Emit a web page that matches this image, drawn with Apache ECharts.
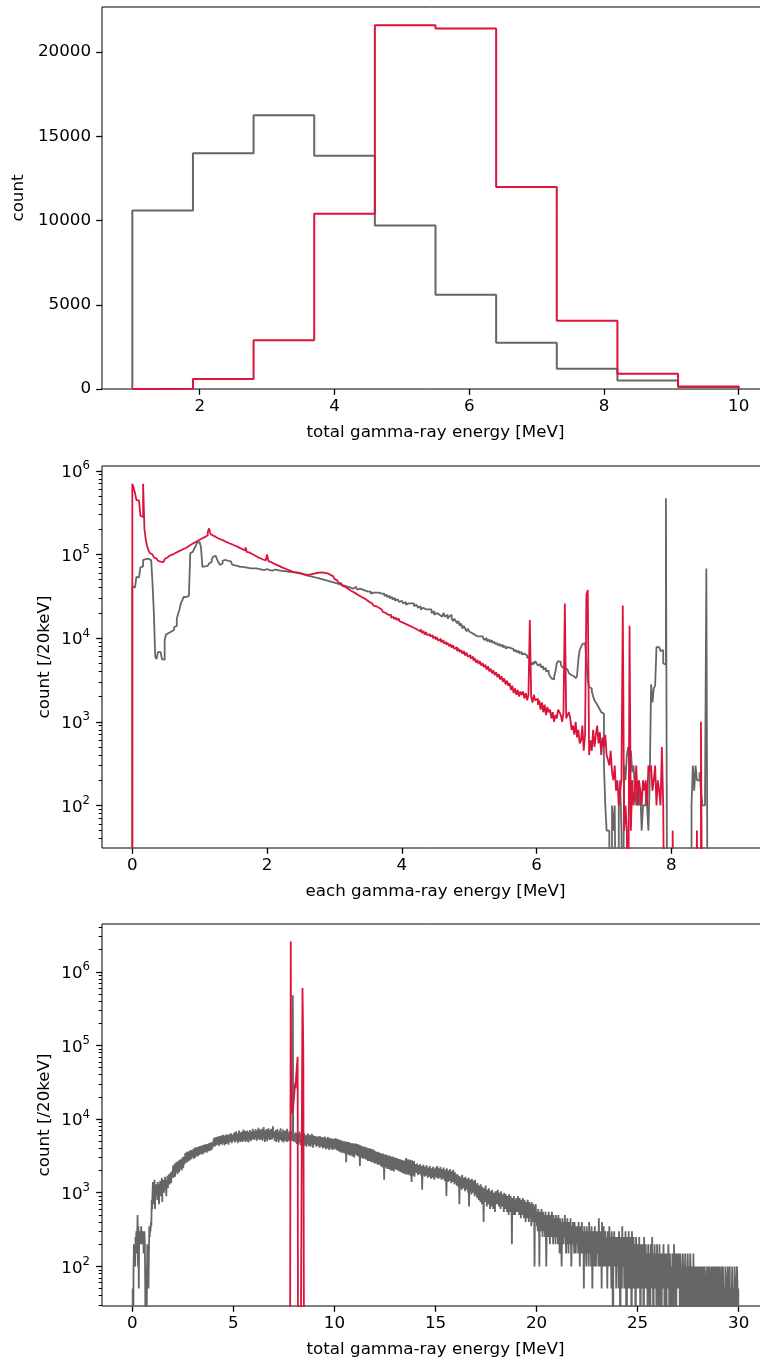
<!DOCTYPE html>
<html>
<head>
<meta charset="utf-8">
<script src="https://cdn.jsdelivr.net/npm/echarts@6/dist/echarts.min.js"></script>
<style>
html,body{margin:0;padding:0;background:#fff;}
#chart{width:760px;height:1362px;}
</style>
</head>
<body>
<div id="chart"></div>
<script>
// ---------------- DATA ----------------
// Panel 1: total gamma-ray energy histogram (bins of 0.9 MeV starting at 1.0 MeV)
const p1BinStart = 1.0;
const p1BinWidth = 0.9;
const p1Gray = [10600, 14000, 16250, 13850, 9700, 5600, 2750, 1200, 500, 120];
const p1Red  = [10, 600, 2900, 10400, 21600, 21400, 12000, 4050, 900, 150];

// Panel 2: each gamma-ray energy, 20 keV bins, rows of 10 bins (0.2 MeV per row)
const p2RowSpan = 0.2;
const p2BinWidth = 0.02;
const p2Gray = [
[42000,40000,41000,54000,53000,55000,70000,72000,86000,88000],
[87000,89000,86000,85000,84000,45000,20000,6000,5600,6800],
[6800,6800,5600,5500,9500,11000,11500,11500,12000,12000],
[12500,13500,14000,17000,19500,22000,26000,28000,31000,31000],
[31500,32000,33000,103000,108000,112000,118000,125000,138000,140000],
[136000,120000,71000,72000,74000,73000,76000,78000,82000,88000],
[94000,96000,95000,86000,80000,75000,78000,84000,86000,85000],
[84000,86000,83000,80000,76000,74000,76000,73000,72000,71000],
[70000,71000,69000,70000,68000,69000,70000,68000,67000,68000],
[67000,68000,66000,67000,68000,66000,67000,65000,66000,67000],
[66000,65000,66000,64000,65000,66000,64000,65000,63000,64000],
[64000,63000,62000,63000,61000,62000,61000,62000,60000,61000],
[60000,61000,59000,60000,58000,59000,58000,57000,58000,56000],
[57000,55000,56000,54000,55000,53000,54000,52000,53000,51000],
[52000,50000,51000,49000,50000,48000,49000,47000,48000,46000],
[47000,45000,46000,44000,45000,43000,44000,42000,43000,41000],
[42000,40000,41000,39000,40000,41000,39000,38000,39000,37000],
[38000,36000,37000,38000,36000,35000,36000,34000,35000,36000],
[35000,34000,35000,36000,34000,33000,34000,32000,33000,31000],
[32000,30000,31000,29000,30000,28000,29000,28000,27000,28000],
[27000,26000,27000,25000,26000,27000,26000,25000,26000,24000],
[25000,24000,23000,24000,22000,23000,24000,22000,21000,22000],
[21000,22000,20000,21000,19000,20000,21000,19000,20000,18000],
[19000,20000,18000,19000,17000,18000,19000,17000,16000,17000],
[16000,15000,16000,14000,15000,13000,14000,13000,12000,13000],
[12000,11500,12000,11000,11500,10500,11000,10500,10000,10500],
[10000,9500,10000,9200,9600,9000,9400,8800,9000,8500],
[8700,8200,8500,8000,8300,7800,8000,7500,7800,7400],
[7600,7200,7400,7000,7200,6800,7000,6600,6800,6400],
[6500,6300,6200,5800,6000,5000,4800,5200,4900,5300],
[5000,4700,4900,4500,4600,4200,4400,4000,4100,3800],
[3500,3300,3200,3400,4000,5000,5300,5200,4800,4500],
[4400,4600,4200,4000,3800,3600,3700,3500,3400,3300],
[3500,5500,7200,7800,8500,8700,8300,5500,3200,2600],
[2500,2300,2000,1800,1700,1600,1500,1400,1300,1250],
[300,100,50,50,0,0,100,50,100,0],
[0,100,200,50,0,300,200,400,500,300],
[450,250,300,150,100,200,100,150,50,100],
[100,150,100,50,200,2800,1700,2500,2700,7800],
[7800,7500,7000,7200,5000,4800,470000,0,0,0],
[0,0,0,0,0,0,0,0,0,0],
[0,0,0,0,0,100,300,150,300,200],
[200,250,150,100,100,100,68000,0,0,0],
[0,0,0,0,0,0,0,0,0,0],
[0,0,0,0,0,0,0,0,0,0]
];
const p2Red = [
[700000,620000,540000,450000,440000,460000,290000,280000,700000,200000],
[150000,125000,112000,104000,100000,96000,92000,89000,86000,84000],
[82000,80000,81000,84000,88000,92000,95000,97000,99000,100000],
[102000,104000,106000,108000,110000,112000,114000,116000,118000,120000],
[123000,126000,129000,132000,135000,138000,141000,144000,147000,150000],
[153000,156000,159000,162000,165000,170000,185000,205000,175000,168000],
[165000,162000,158000,155000,152000,150000,148000,146000,143000,140000],
[138000,136000,134000,132000,130000,128000,126000,124000,121000,119000],
[117000,115000,113000,111000,122000,107000,105000,103000,101000,99000],
[97000,95000,93000,92000,90000,89000,87000,86000,85000,84000],
[100000,83000,81000,80000,78000,77000,75000,74000,73000,71000],
[70000,69000,68000,67000,66000,65000,64000,63000,62000,61500],
[61000,60500,60000,59500,59000,58500,58000,58000,57500,57000],
[57000,57500,58000,58000,59000,59500,60000,60000,60500,61000],
[61000,60500,60000,60000,59500,58000,57000,56000,55000,53000],
[51000,49000,47000,46000,45000,44000,42000,41000,40000,39000],
[38000,37000,36000,35500,35000,34000,33000,32500,32000,31000],
[30500,30000,29000,28500,28000,27000,26500,26000,25000,24500],
[24000,23500,23000,22500,22000,21000,20500,20000,19500,19000],
[18500,19000,17500,18000,17000,17500,16500,17000,16000,15500],
[16000,15000,15500,14500,15000,14000,14500,13500,14200,13000],
[13500,12500,13000,12000,12800,11500,12200,11000,11800,10800],
[11200,10500,10800,10000,10400,9600,10200,9300,9800,9000],
[9400,8600,9000,8300,8800,8000,8500,7700,8200,7400],
[7800,7000,7500,6800,7200,6500,7000,6200,6700,6000],
[6300,5700,6000,5400,5800,5100,5500,4900,5300,4700],
[5000,4500,4800,4200,4600,4000,4300,3800,4100,3600],
[3900,3400,3700,3200,3500,3000,3300,2800,3100,2700],
[2900,2400,2700,2200,2500,2100,2400,2000,2300,2100],
[2300,1900,2200,1800,2100,16400,2000,1700,2100,1800],
[1900,1600,1800,1400,1700,1300,1600,1200,1500,1300],
[1400,1100,1300,1000,1200,1100,1400,1300,1200,1000],
[1300,25900,1100,1200,1300,1100,800,900,700,1000],
[650,800,550,600,900,450,700,33000,37500,400],
[600,450,800,500,700,900,550,750,400,650],
[500,700,400,350,300,450,250,200,300,150],
[200,100,150,200,24600,50,100,50,0,14000],
[50,200,100,150,300,100,200,150,100,200],
[150,200,100,300,250,300,150,200,300,100],
[200,150,100,500,100,0,0,0,0,0],
[0,50,0,0,0,0,0,0,0,0],
[0,0,0,0,0,0,0,0,0,50],
[0,0,1000,0,0,0,0,0,0,0],
[0,0,0,0,0,0,0,0,0,0],
[0,0,0,0,0,0,0,0,0,0]
];

// Panel 3: total gamma-ray energy, 20 keV bins, rows of 50 bins (1 MeV per row)
const p3RowSpan = 1.0;
const p3BinWidth = 0.02;
const p3Gray = [
[0,50,0,100,200,150,200,100,250,200, 300,150,250,500,100,350,50,300,250,200, 300,250,350,200,300,250,200,300,150,250, 300,200,50,0,100,0,50,200,100,200, 50,150,350,250,350,300,400,350,800,600],
[1000,1400,700,1200,850,1500,600,1100,900,1300, 1000,1250,800,1400,950,1300,700,1150,1050,1450, 900,1300,1100,1600,750,1350,1200,1500,1000,1400, 1250,1650,1100,1500,900,1450,1300,1700,1150,1550, 1400,1800,1300,1650,1500,1900,1350,1750,1600,2000],
[1750,2350,1600,2200,1850,2500,1650,2300,1900,2600, 1950,2450,1800,2700,2000,2550,1900,2800,2100,2650, 2150,2900,2000,2800,2250,3050,2150,2950,2400,3100, 2500,3450,2650,3300,2550,3600,2750,3450,2650,3550, 2850,3700,2750,3550,2950,3800,2850,3650,3050,3750],
[3050,3950,2900,3800,3150,4100,3000,3900,3250,4150, 3200,4050,3100,4200,3350,4000,3250,4300,3400,4150, 3450,4350,3300,4250,3550,4450,3400,4300,3650,4500, 3550,4550,3700,4350,3500,4600,3750,4450,3650,4700, 3850,4650,3700,4800,3950,4600,3800,4850,4000,4750],
[4300,5300,4600,5600,4200,5500,4900,4400,5700,4600, 5200,4500,5800,4700,5400,4300,5900,5000,4600,5700, 4800,6000,4500,5500,5100,6100,4700,5600,4400,6000, 5000,5800,4600,6200,5200,4800,6100,5300,4500,5900, 5100,6300,4900,5700,5300,6400,4700,6000,5200,5600],
[5000,6300,5300,6600,4800,6000,5500,6800,5100,6200, 5700,4700,6400,5300,7000,5000,6100,4900,6600,5600, 5200,6700,4900,6300,5800,7200,5100,6000,5400,6900, 4900,6500,6200,5100,7000,5500,6300,4800,6700,5800, 5300,7100,5600,5000,6800,5200,6500,5700,7400,5400],
[5800,6900,5200,6500,5600,7300,5500,6800,5100,6400, 7000,5400,7600,5700,6600,5200,7200,5900,5300,6900, 5600,7400,5100,6700,6000,7800,5500,6500,4900,7000, 5800,5300,7300,6100,5000,6800,5700,7500,5400,6600, 6000,5200,7100,5600,7400,5300,6700,5900,8000,5500],
[5600,6800,5100,6500,5500,7100,4900,6600,5700,7300, 5300,6700,4800,6400,5600,7000,5200,7500,5400,6600, 5000,6500,5700,7200,4800,6300,5500,6900,5100,7000, 5300,6600,4900,7400,5600,6500,5000,6400,5500,6900, 5200,6700,5000,6300,5400,6800,5100,480000,5700,5000],
[5900,4900,6300,5100,6600,4800,6100,4600,6400,5000, 6000,4500,6300,4900,6800,4800,5900,4400,6200,5000, 5800,4300,6200,4900,6500,4700,5800,4400,6100,5000, 5700,4200,6000,4800,6400,4600,5900,4300,6100,4900, 5600,4200,6000,4700,6300,4500,5700,4100,6000,4800],
[5700,4500,5900,4600,5600,4200,5800,4500,5500,4300, 5800,4400,5400,4100,5900,4500,5600,4200,5500,4400, 5700,4000,5600,4400,5300,4100,5800,4300,5400,3900, 5500,4300,5300,4000,5700,4200,5400,3800,5500,4300, 5200,4000,5500,4100,5300,3800,5400,4200,5200,3900],
[5300,4000,5500,4100,5100,3800,5400,4000,5000,3700, 5300,3900,5000,3600,5200,3800,4900,3500,5100,3900, 4900,3500,5000,3700,4800,3400,5000,3600,4700,2600, 4900,3600,4700,3300,4900,3500,4600,3200,4800,3500, 4600,3200,4700,3400,4500,3100,4700,3300,4400,3000],
[4600,3400,4700,3500,4400,3200,4600,3400,4300,3100, 4500,3300,4200,2300,4400,3200,4100,3000,4300,3200, 4100,2900,4200,3100,4000,2900,4200,3000,3900,2800, 4100,3000,3900,2700,4000,2900,3800,2700,4000,2900, 3800,2600,3900,2800,3700,2600,3900,2800,3600,2500],
[3700,2700,3500,2500,3600,2600,3400,2400,3600,2600, 3300,2400,3500,2500,3300,2300,3400,2500,3200,2200, 3400,2400,3200,1500,3300,2400,3100,2200,3300,2300, 3100,2100,3200,2300,3000,2100,3200,2200,3000,2000, 3100,2200,2900,2000,3100,2100,2900,1950,3000,2100],
[3000,2200,2850,2050,2950,2150,2800,2000,2900,2100, 2750,1950,2850,2050,2700,1900,2800,2000,2650,1850, 2750,1950,2600,1800,2700,1900,2550,2950,1750,2650, 1850,2500,2850,1750,2600,1800,2450,2800,1700,2550, 1800,1400,2750,1700,2500,1750,2350,2700,1650,2450],
[2400,1950,2250,1850,2500,2000,2150,1750,2350,1900, 2200,1800,2450,1950,2100,1700,2300,1100,2150,1750, 2400,1900,2050,1650,2250,1800,2100,1700,2350,1850, 2000,1600,2200,1750,2050,1650,2300,1800,1950,1550, 2150,1700,2000,1600,2250,1750,1900,1500,2100,1650],
[2200,1750,2050,1600,2300,1800,1950,1550,2150,1700, 2000,1600,2250,1750,1900,1500,2100,1650,1950,1550, 2200,1700,1850,1450,2050,1600,1900,900,2150,1650, 1800,1400,2000,1550,1850,1450,2100,1600,1750,1350, 1950,1500,1800,1400,2050,1550,1700,1300,1900,1450],
[1750,1350,1600,1250,1800,1400,1550,1200,1700,700, 1500,1150,1650,1250,1450,1100,1750,1300,1500,1150, 1600,1200,1400,1050,1650,1250,1450,1100,1550,1150, 1350,1000,1600,650,1400,1050,1500,1100,1300,950, 1550,1150,1350,1000,1450,1050,1250,900,1500,1100],
[1300,950,1200,850,1350,1000,1150,800,1250,900, 1100,750,1300,950,1050,700,1200,850,1000,400, 1150,800,1050,750,1250,850,950,650,1100,800, 1000,700,1150,750,900,600,1050,750,950,650, 1100,700,900,600,1000,700,850,550,1050,700],
[1050,750,950,700,1100,800,900,650,1000,750, 850,600,1050,750,900,650,950,700,800,550, 1000,700,850,600,950,650,800,550,900,650, 750,500,950,650,800,550,900,600,750,200, 850,600,750,500,900,600,700,500,800,550],
[850,600,800,550,900,650,750,500,850,600, 700,450,800,550,750,500,850,600,700,450, 800,550,650,400,750,500,700,450,800,550, 650,400,750,500,700,450,600,350,750,500, 650,400,700,450,600,100,650,450,700,400],
[550,350,500,300,600,400,450,100,550,350, 500,300,600,350,450,250,550,350,500,300, 450,250,550,350,100,300,500,300,450,250, 550,350,400,200,500,300,450,250,550,300, 400,200,500,300,450,250,400,200,500,300],
[450,250,400,200,500,300,350,150,450,250, 400,200,100,250,450,250,350,200,400,250, 500,300,350,150,400,200,450,250,300,150, 400,250,350,200,450,250,100,200,350,200, 400,200,300,150,400,250,350,150,300,200],
[350,200,300,150,400,200,250,100,350,200, 300,150,400,250,300,150,250,50,350,200, 300,150,250,100,350,200,300,150,250,100, 400,200,300,150,250,100,350,200,50,150, 300,150,250,100,350,200,250,100,300,150],
[300,150,250,100,450,200,250,100,300,150, 200,50,400,150,250,100,350,200,250,100, 300,150,200,100,250,50,300,150,200,100, 350,200,250,100,200,50,300,150,250,0, 200,100,300,150,200,100,250,50,200,150],
[250,100,200,50,300,150,200,0,250,100, 150,50,350,150,200,100,250,50,200,100, 300,150,150,0,250,100,200,50,300,100, 150,50,250,100,200,0,300,150,150,50, 250,100,200,50,150,0,250,100,200,50],
[200,100,150,50,250,100,150,0,200,50, 150,100,200,50,100,0,250,100,150,50, 200,100,100,50,150,0,200,100,150,50, 100,0,200,50,150,100,250,50,100,0, 150,50,200,100,100,50,150,0,200,50],
[150,50,100,0,200,100,150,50,100,0, 150,50,100,50,200,50,100,0,150,100, 50,0,150,50,100,50,200,100,50,0, 150,50,100,0,100,50,150,50,100,0, 200,50,100,50,150,0,100,50,150,50],
[100,50,150,50,100,0,150,100,50,0, 100,50,150,50,100,0,50,100,150,50, 100,0,100,50,150,50,50,0,100,50, 150,100,50,0,100,50,100,0,150,50, 50,0,100,50,100,50,50,0,100,50],
[100,50,50,0,100,50,0,50,100,50, 50,0,100,50,50,0,100,100,50,0, 50,50,100,0,50,100,50,0,100,50, 50,0,50,100,50,0,100,50,50,0, 100,50,0,50,50,100,0,50,100,50],
[50,0,100,50,50,0,50,100,0,50, 50,100,50,0,50,50,0,100,50,50, 0,50,50,100,50,0,50,50,100,0, 50,50,0,50,100,50,0,50,50,0, 100,50,50,0,50,50,100,50,0,50]
];
const p3RedStart = 7.80;
const p3Red = [0,2000,2580000,12000,11500,12500,12000,13500,15000,17000,
  19500,23000,27000,31000,26000,36000,43000,51000,60000,70000,
  0,0,0,0,0,0,0,0,0,0,0,
  600000,590000,82000,80000,0];

// Axis ticks
const p1XTicks = [2, 4, 6, 8, 10];
const p1YTicks = [0, 5000, 10000, 15000, 20000];
const p2XTicks = [0, 2, 4, 6, 8];
const p3XTicks = [0, 5, 10, 15, 20, 25, 30];
const logTicks = [1e2, 1e3, 1e4, 1e5, 1e6];

// ---------------- BUILD ----------------
const FLOOR_LOG = 1; // zero bins drawn below the visible log range

function stepFlat(start, width, values, floor) {
  const pts = [[start, floor]];
  values.forEach((v, i) => {
    const x0 = start + i * width;
    const y = v > 0 ? v : floor;
    pts.push([x0, y], [x0 + width, y]);
  });
  pts.push([start + values.length * width, floor]);
  return pts;
}
function stepRows(rows, rowSpan, width, floor) {
  const pts = [[0, floor]];
  rows.forEach((row, r) => {
    row.forEach((v, j) => {
      const x0 = r * rowSpan + j * width;
      const y = v > 0 ? v : floor;
      pts.push([x0, y], [x0 + width, y]);
    });
  });
  pts.push([rows.length * rowSpan, floor]);
  return pts;
}
function minorLog(lo, hi) {
  const out = [];
  for (let e = 0; e <= 7; e++) for (let k = 2; k <= 9; k++) {
    const v = k * Math.pow(10, e);
    if (v >= lo && v <= hi) out.push(v);
  }
  return out;
}

const FONT = 'DejaVu Sans';
const FS = 16.7;
const GRAY = '#666666';
const RED = '#DC143C';
const txt = { fontFamily: FONT, fontSize: FS, color: '#000' };
const tickStyle = { color: '#000', width: 1.3 };
const richLog = {
  b: { fontFamily: FONT, fontSize: FS, color: '#000', verticalAlign: 'bottom' },
  s: { fontFamily: FONT, fontSize: 11.7, color: '#000', verticalAlign: 'bottom', padding: [0, 0, 9, 0] }
};
const logFmt = v => '{b|10}{s|' + Math.round(Math.log10(v)) + '}';

const P2MIN = 31, P2MAX = 1.14e6;
const P3MIN = 29, P3MAX = 4.45e6;

const G = { left: 102, width: 667, height: 382 };
const grids = [
  Object.assign({ top: 7 }, G),
  Object.assign({ top: 466 }, G),
  Object.assign({ top: 924 }, G)
].map(g => Object.assign(g, {
  show: true, borderColor: '#000', borderWidth: 1, backgroundColor: 'transparent',
  containLabel: false, outerBoundsMode: 'none'
}));

function xAx(gi, min, max, ticks, name) {
  return {
    gridIndex: gi, type: 'value', min: min, max: max, position: 'bottom',
    axisLine: { show: false, onZero: false }, splitLine: { show: false },
    axisTick: { customValues: ticks, length: 5.8, lineStyle: tickStyle },
    axisLabel: Object.assign({ customValues: ticks, formatter: v => String(v), margin: 9 }, txt),
    name: name, nameLocation: 'middle', nameGap: 35, nameMoveOverlap: false, nameTextStyle: txt
  };
}
function yLogMain(gi, min, max) {
  return {
    gridIndex: gi, type: 'log', logBase: 10, min: min, max: max, position: 'left',
    axisLine: { show: false, onZero: false }, splitLine: { show: false },
    axisTick: { customValues: logTicks, length: 5.8, lineStyle: tickStyle },
    axisLabel: { customValues: logTicks, formatter: logFmt, rich: richLog, margin: 12 },
    name: 'count [/20keV]', nameLocation: 'middle', nameGap: 49, nameMoveOverlap: false, nameTextStyle: txt
  };
}
function yLogMinor(gi, min, max) {
  return {
    gridIndex: gi, type: 'log', logBase: 10, min: min, max: max, position: 'left', offset: 0,
    axisLine: { show: false, onZero: false }, splitLine: { show: false },
    axisTick: { customValues: minorLog(min, max), length: 3.3, lineStyle: { color: '#000', width: 1 } },
    axisLabel: { show: false }
  };
}

const option = {
  animation: false,
  backgroundColor: '#fff',
  grid: grids,
  xAxis: [
    xAx(0, 0.55, 10.45, p1XTicks, 'total gamma-ray energy [MeV]'),
    xAx(1, -0.45, 9.45, p2XTicks, 'each gamma-ray energy [MeV]'),
    xAx(2, -1.5, 31.5, p3XTicks, 'total gamma-ray energy [MeV]')
  ],
  yAxis: [
    {
      gridIndex: 0, type: 'value', min: 0, max: 22680, position: 'left',
      axisLine: { show: false, onZero: false }, splitLine: { show: false },
      axisTick: { customValues: p1YTicks, length: 5.8, lineStyle: tickStyle },
      axisLabel: Object.assign({ customValues: p1YTicks, formatter: v => String(v), margin: 11 }, txt),
      name: 'count', nameLocation: 'middle', nameGap: 75, nameMoveOverlap: false, nameTextStyle: txt
    },
    yLogMain(1, P2MIN, P2MAX),
    yLogMinor(1, P2MIN, P2MAX),
    yLogMain(2, P3MIN, P3MAX),
    yLogMinor(2, P3MIN, P3MAX)
  ],
  series: [
    { type: 'line', xAxisIndex: 0, yAxisIndex: 0, data: stepFlat(p1BinStart, p1BinWidth, p1Gray, 0), showSymbol: false, lineStyle: { color: GRAY, width: 2 }, itemStyle: { color: GRAY } },
    { type: 'line', xAxisIndex: 0, yAxisIndex: 0, data: stepFlat(p1BinStart, p1BinWidth, p1Red, 0), showSymbol: false, lineStyle: { color: RED, width: 2 }, itemStyle: { color: RED } },
    { type: 'line', xAxisIndex: 1, yAxisIndex: 1, data: stepRows(p2Gray, p2RowSpan, p2BinWidth, FLOOR_LOG), showSymbol: false, lineStyle: { color: GRAY, width: 1.8 }, itemStyle: { color: GRAY } },
    { type: 'line', xAxisIndex: 1, yAxisIndex: 1, data: stepRows(p2Red, p2RowSpan, p2BinWidth, FLOOR_LOG), showSymbol: false, lineStyle: { color: RED, width: 1.8 }, itemStyle: { color: RED } },
    { type: 'line', xAxisIndex: 2, yAxisIndex: 3, data: stepRows(p3Gray, p3RowSpan, p3BinWidth, FLOOR_LOG), showSymbol: false, lineStyle: { color: GRAY, width: 1.8 }, itemStyle: { color: GRAY } },
    { type: 'line', xAxisIndex: 2, yAxisIndex: 3, data: stepFlat(p3RedStart, p3BinWidth, p3Red, FLOOR_LOG), showSymbol: false, lineStyle: { color: RED, width: 1.8 }, itemStyle: { color: RED } }
  ]
};
option.series.forEach(s => { s.clip = true; s.silent = true; s.animation = false; });

const chart = echarts.init(document.getElementById('chart'), null, { renderer: 'canvas', width: 760, height: 1362 });
chart.setOption(option);
</script>
</body>
</html>
